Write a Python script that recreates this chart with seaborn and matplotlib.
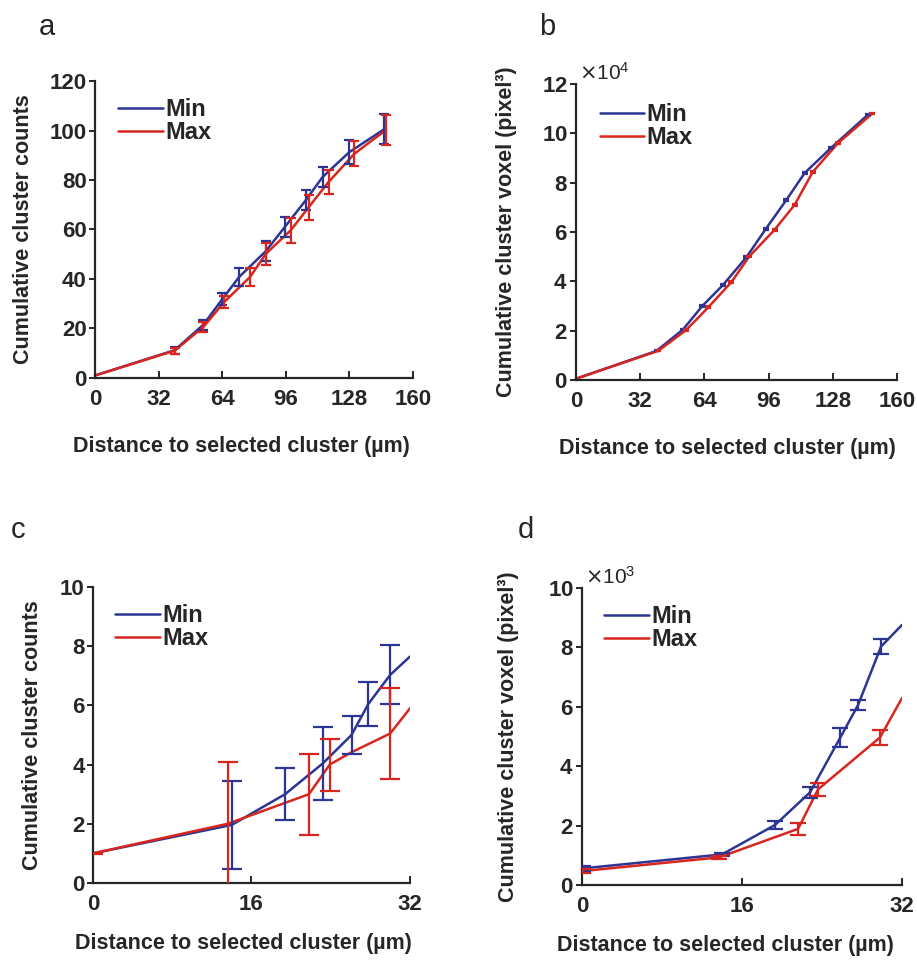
import numpy as np
import pandas as pd
import matplotlib
matplotlib.use("Agg")
import matplotlib.pyplot as plt
import seaborn as sns
from matplotlib.ticker import ScalarFormatter

# ---------------- data ----------------
# Panel a: cumulative cluster counts vs distance (0-160 um)
a_min_x = [0, 40, 54.5, 64, 72.5, 86, 95.5, 106, 114.5, 128, 145.5]
a_min_y = [1, 11.2, 21.5, 31.8, 40.8, 51.3, 61, 71.8, 81.2, 91.3, 100.5]
a_min_e = [np.nan, 1.5, 2, 2.5, 3.5, 4, 4, 4, 4, 5, 6]
a_max_x = [0, 40, 54.5, 65, 78, 86, 98.5, 107.5, 117.5, 130.5, 146.5]
a_max_y = [1, 11, 20.6, 30.7, 40.8, 50.2, 59.7, 69, 79.2, 90.6, 100.3]
a_max_e = [np.nan, 1.2, 2, 2.5, 3.5, 4.5, 5, 5, 5, 5, 6]

# Panel b: cumulative cluster voxel (pixel^3) vs distance (0-160 um)
b_min_x = [0, 40.2, 53.4, 63, 73.4, 85, 94.6, 104.9, 114, 127.3, 145.6]
b_min_y = [500, 11800, 20500, 30000, 38600, 49800, 61200, 73000, 83900, 94200, 107600]
b_min_e = [np.nan, 250, 300, 300, 300, 300, 300, 300, 300, 300, 300]
b_max_x = [0, 41, 55, 66, 77.5, 86.3, 99, 109, 118, 130.6, 147.7]
b_max_y = [500, 11800, 20300, 29500, 39700, 50000, 60900, 71000, 84300, 96000, 108000]
b_max_e = [np.nan, 250, 300, 300, 300, 300, 300, 300, 300, 300, 300]

# Panel c: cumulative cluster counts vs distance (0-32 um)
c_min_x = [0, 14, 19.4, 23.2, 26.1, 27.8, 30, 32]
c_min_y = [1.0, 1.96, 3.0, 4.04, 5.0, 6.05, 7.03, 7.65]
c_min_e = [np.nan, 1.5, 0.88, 1.24, 0.65, 0.75, 1.0, np.nan]
c_max_x = [0, 13.6, 21.8, 23.9, 26, 30, 32]
c_max_y = [1.0, 2.0, 3.0, 4.0, 4.4, 5.05, 5.9]
c_max_e = [0.02, 2.1, 1.37, 0.88, np.nan, 1.55, np.nan]

# Panel d: cumulative cluster voxel (pixel^3) vs distance (0-32 um)
d_min_x = [0.1, 14, 19.3, 22.8, 25.8, 27.6, 29.9, 32]
d_min_y = [560, 1030, 2020, 3120, 4950, 6060, 8030, 8760]
d_min_e = [80, 60, 150, 180, 320, 180, 250, np.nan]
d_max_x = [0.1, 13.7, 21.6, 23.6, 29.8, 32]
d_max_y = [470, 930, 1890, 3220, 4970, 6300]
d_max_e = [60, 60, 190, 230, 250, np.nan]

series_names = ["Min", "Max"]
panel_letters = ["a", "b", "c", "d"]
x_ticks_long = [0, 32, 64, 96, 128, 160]
x_ticks_short = [0, 16, 32]
xlabel_text = "Distance to selected cluster (µm)"
ylabel_counts = "Cumulative cluster counts"
ylabel_voxel = "Cumulative cluster voxel (pixel³)"

BLUE = "#2c3593"
RED = "#d8261e"
palette = {"Min": BLUE, "Max": RED}

sns.set_theme(style="ticks")
plt.rcParams["font.family"] = ["Liberation Sans", "DejaVu Sans"]
plt.rcParams["axes.linewidth"] = 1.6
plt.rcParams["xtick.major.width"] = 1.4
plt.rcParams["ytick.major.width"] = 1.4

fig = plt.figure(figsize=(9.17, 9.61), dpi=100)
ax_pos = [
    [0.1036, 0.6067, 0.3468, 0.309],
    [0.6281, 0.6046, 0.3500, 0.308],
    [0.1014, 0.0812, 0.3457, 0.308],
    [0.6347, 0.0791, 0.3490, 0.309],
]
axes = [fig.add_axes(p) for p in ax_pos]

panels = [
    (a_min_x, a_min_y, a_min_e, a_max_x, a_max_y, a_max_e),
    (b_min_x, b_min_y, b_min_e, b_max_x, b_max_y, b_max_e),
    (c_min_x, c_min_y, c_min_e, c_max_x, c_max_y, c_max_e),
    (d_min_x, d_min_y, d_min_e, d_max_x, d_max_y, d_max_e),
]
ylims = [(0, 120), (0, 120000), (0, 10), (0, 10000)]
yticks = [np.arange(0, 121, 20), np.arange(0, 120001, 20000), np.arange(0, 11, 2), np.arange(0, 10001, 2000)]
powers = [None, 4, None, 3]
xlims = [(0, 160), (0, 160), (0, 32), (0, 32)]
xticks = [x_ticks_long, x_ticks_long, x_ticks_short, x_ticks_short]
ylabels = [ylabel_counts, ylabel_voxel, ylabel_counts, ylabel_voxel]
capsizes = [3.6, 2.2, 7.0, 5.5]
legend_anchor = [(0.044, 0.975), (0.044, 0.968), (0.04, 0.975), (0.04, 0.975)]
letter_pos = [(0.042, 0.972), (0.588, 0.972), (0.012, 0.448), (0.565, 0.448)]
ylabelpads = [11, 18, 12, 21]
xlabelpads = [19, 19, 13, 13]
xlabel_x = [0.462, 0.472, 0.475, 0.447]

for i, ax in enumerate(axes):
    mx, my, me, Mx, My, Me = panels[i]
    df = pd.concat([
        pd.DataFrame({"x": mx, "y": my, "err": me, "series": "Min"}),
        pd.DataFrame({"x": Mx, "y": My, "err": Me, "series": "Max"}),
    ], ignore_index=True)
    sns.lineplot(data=df, x="x", y="y", hue="series", hue_order=series_names,
                 palette=palette, ax=ax, linewidth=1.8, estimator=None,
                 sort=False, errorbar=None, clip_on=(i >= 2))
    for name in series_names:
        sub = df[df["series"] == name]
        ax.errorbar(sub["x"], sub["y"], yerr=sub["err"], fmt="none",
                    ecolor=palette[name], elinewidth=1.6, capsize=capsizes[i],
                    capthick=1.6, zorder=3)
    ax.set_xlim(*xlims[i])
    ax.set_ylim(*ylims[i])
    ax.set_xticks(xticks[i])
    ax.set_yticks(yticks[i])
    sns.despine(ax=ax)
    ax.tick_params(axis="y", direction="out", length=4, labelsize=16, pad=2)
    ax.tick_params(axis="x", direction="in", length=5, labelsize=16, pad=8)
    for lab in ax.get_xticklabels() + ax.get_yticklabels():
        lab.set_fontweight("bold")
    ax.set_xlabel(xlabel_text, fontsize=15.5, fontweight="bold", labelpad=xlabelpads[i])
    ax.xaxis.label.set_x(xlabel_x[i])
    ax.set_ylabel(ylabels[i], fontsize=15.5, fontweight="bold", labelpad=ylabelpads[i])
    if powers[i] is not None:
        fmt = ScalarFormatter(useMathText=True)
        fmt.set_powerlimits((powers[i], powers[i]))
        ax.yaxis.set_major_formatter(fmt)
        off = ax.yaxis.get_offset_text()
        off.set_fontsize(15)
        off.set_fontweight("normal")
        off.set_x(0.01)
    leg = ax.legend(title=None, loc="upper left", bbox_to_anchor=legend_anchor[i],
                    frameon=False, fontsize=17, handlelength=1.9, handletextpad=0.1,
                    labelspacing=0.0, borderaxespad=0)
    for t in leg.get_texts():
        t.set_fontweight("bold")
    for ln in leg.get_lines():
        ln.set_linewidth(1.8)
    fig.text(letter_pos[i][0], letter_pos[i][1], panel_letters[i], fontsize=21,
             ha="left", va="center")

fig.savefig("out.png", dpi=100)
